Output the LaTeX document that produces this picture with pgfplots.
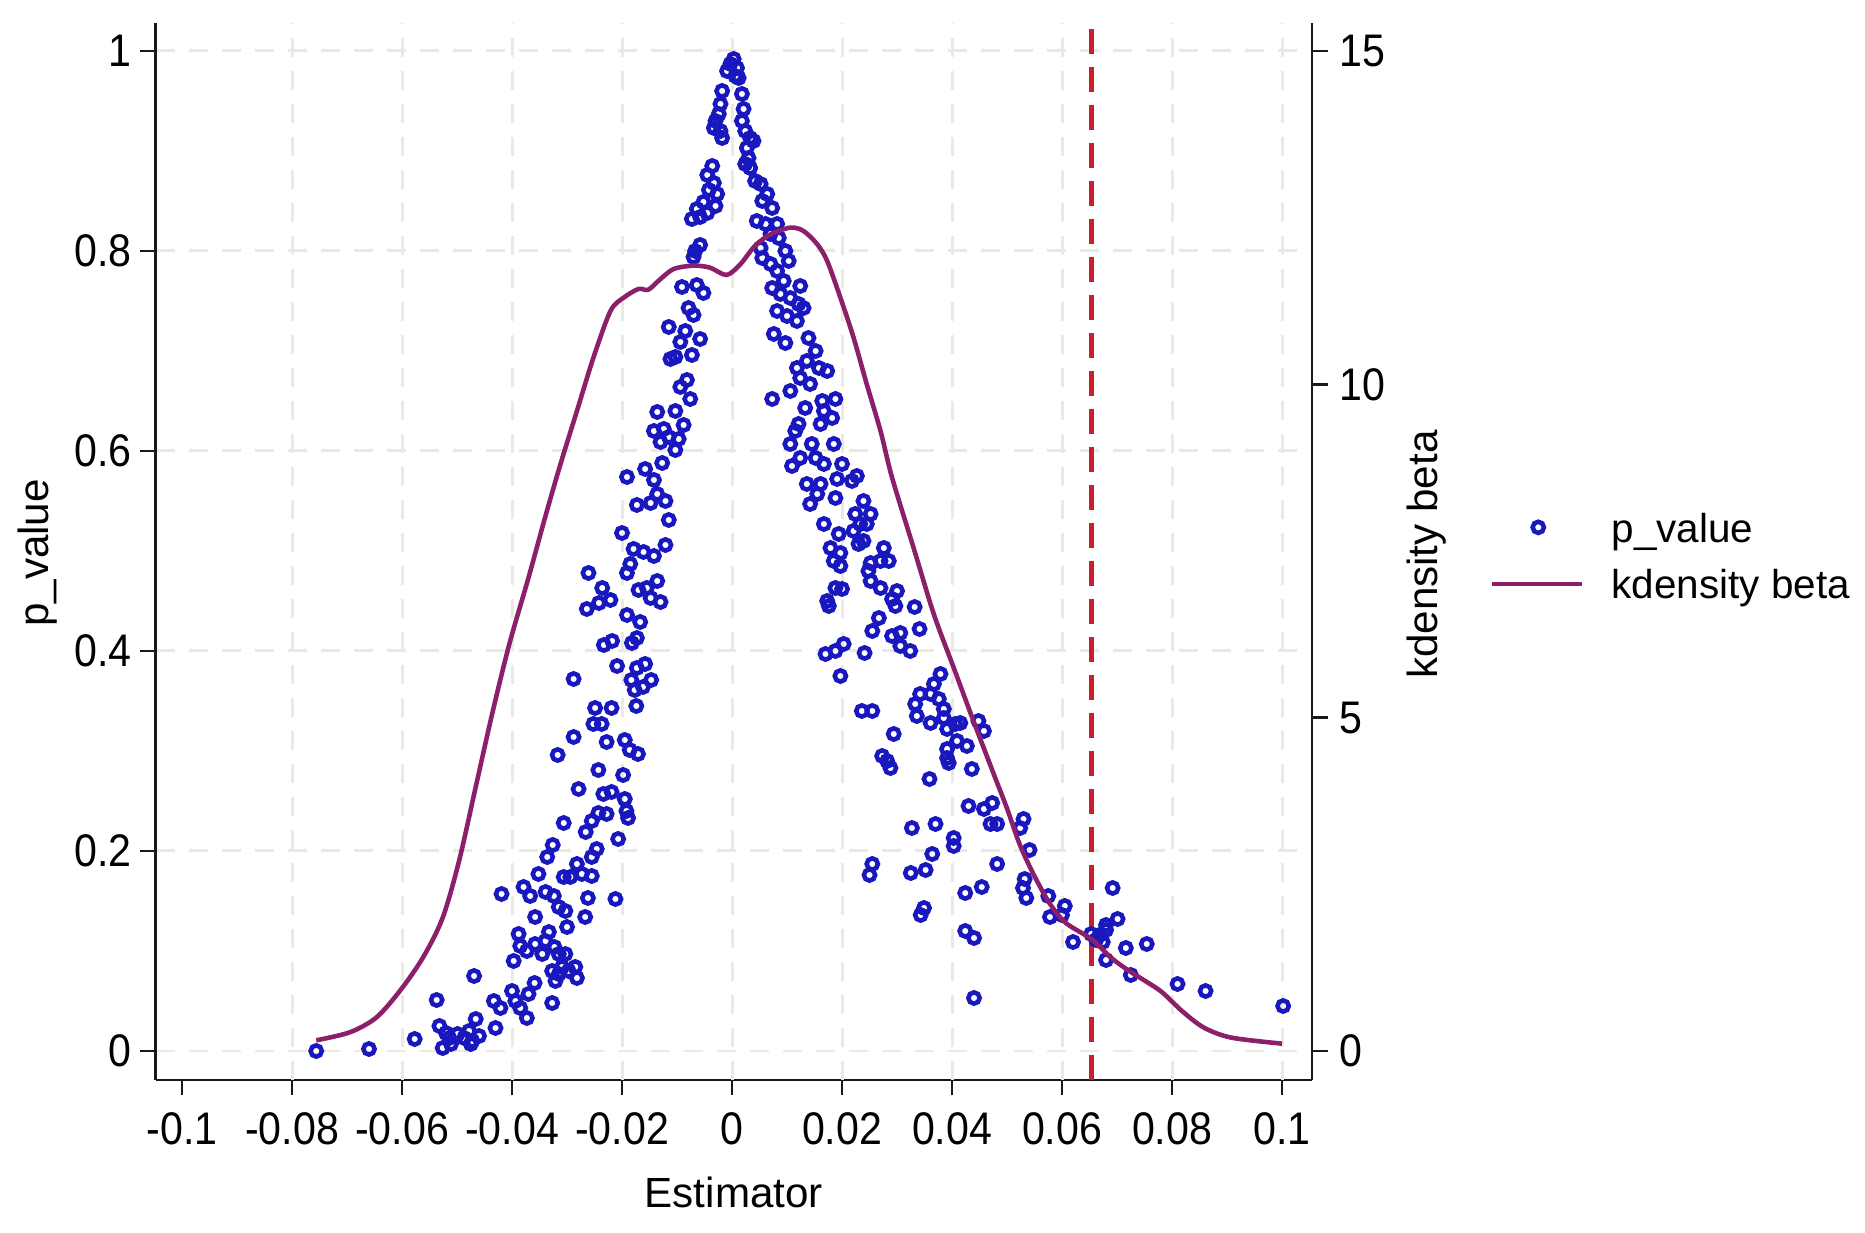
\documentclass[border=0pt]{standalone}
\usepackage{fontspec}
\setmainfont{Liberation Sans}
\newfontfamily\tickfam[FakeStretch=0.9]{Liberation Sans}
\usepackage{pgfplots}
\pgfplotsset{compat=1.18}
\definecolor{bluec}{RGB}{24,24,190}
\definecolor{purplec}{RGB}{139,31,106}
\definecolor{redc}{RGB}{200,30,45}
\definecolor{gridc}{RGB}{234,234,226}
\definecolor{axc}{RGB}{25,25,25}
\newcommand\tfont{\tickfam\fontsize{13pt}{15pt}\selectfont}
\newcommand\lfont{\fontsize{12pt}{14pt}\selectfont}
\newcommand\legfont{\fontsize{11.5pt}{13pt}\selectfont}
\pgfplotsset{
  markleg/.style={legend image code/.code={\draw[##1] plot coordinates {(0.46cm,0.15cm)};}},
  lineleg/.style={legend image code/.code={\draw[##1] (0cm,0.15cm) -- (0.9cm,0.15cm);}},
  pmark/.style={only marks, mark=o, mark size=1.6pt, mark options={draw=bluec, line width=1.3pt}},
}
\begin{document}
\begin{tikzpicture}
\useasboundingbox (0,0) rectangle (18.65cm,12.33cm);
\begin{axis}[
  at={(1.555cm,1.53cm)}, anchor=south west,
  scale only axis, width=11.565cm, height=10.57cm,
  xmin=-0.10482, xmax=0.10545, ymin=-0.029, ymax=1.028,
  axis x line*=bottom, axis y line*=left,
  axis line style={line width=0.8pt, draw=axc},
  tick pos=left, tick align=outside,
  major tick length=0.155cm,
  tick style={line width=0.8pt, draw=axc},
  xtick={-0.1,-0.08,-0.06,-0.04,-0.02,0,0.02,0.04,0.06,0.08,0.1},
  xticklabels={-0.1,-0.08,-0.06,-0.04,-0.02,0,0.02,0.04,0.06,0.08,0.1},
  ytick={0,0.2,0.4,0.6,0.8,1},
  yticklabels={0,0.2,0.4,0.6,0.8,1},
  extra x ticks={-0.08,-0.06,-0.04,-0.02,0,0.02,0.04,0.06,0.08,0.1},
  extra x tick labels={,,,,,,,,,},
  extra x tick style={xmajorgrids=true, major tick length=0pt},
  ymajorgrids=true,
  major grid style={draw=gridc, line width=0.85pt, dash pattern=on 0.19cm off 0.14cm},
  tick label style={font=\tfont},
  xticklabel style={yshift=-0.05cm},
  yticklabel style={xshift=0.04cm},
  xlabel={Estimator}, ylabel={p\_value},
  label style={font=\lfont},
  xlabel style={at={(axis description cs:0.5,-0.1202)}, anchor=base},
  ylabel style={at={(axis description cs:-0.0921,0.4986)}, anchor=base},
]
\addplot[draw=redc, line width=1.35pt, dash pattern=on 0.25cm off 0.13cm, forget plot]
  coordinates {(0.0653,-0.029) (0.0653,1.028)};
\addplot[pmark] table {
x y
-0.0756 0.000
-0.0660 0.002
-0.0577 0.012
-0.0537 0.051
-0.0469 0.075
-0.0532 0.025
-0.0520 0.018
-0.0526 0.003
-0.0511 0.007
-0.0499 0.017
-0.0487 0.013
-0.0478 0.020
-0.0472 0.010
-0.0466 0.032
-0.0460 0.015
-0.0475 0.007
-0.0514 0.013
-0.0433 0.050
-0.0430 0.023
-0.0421 0.043
-0.0400 0.060
-0.0394 0.050
-0.0385 0.043
-0.0373 0.033
-0.0370 0.057
-0.0359 0.068
-0.0397 0.090
-0.0388 0.117
-0.0385 0.105
-0.0358 0.134
-0.0373 0.100
-0.0358 0.107
-0.0345 0.097
-0.0339 0.110
-0.0333 0.119
-0.0327 0.080
-0.0327 0.048
-0.0321 0.070
-0.0315 0.077
-0.0309 0.084
-0.0303 0.097
-0.0297 0.080
-0.0285 0.084
-0.0282 0.073
-0.0315 0.097
-0.0323 0.104
-0.0419 0.157
-0.0379 0.164
-0.0367 0.155
-0.0352 0.177
-0.0339 0.159
-0.0324 0.155
-0.0315 0.144
-0.0303 0.140
-0.0300 0.124
-0.0267 0.134
-0.0262 0.153
-0.0212 0.152
-0.0336 0.194
-0.0326 0.206
-0.0306 0.174
-0.0294 0.174
-0.0282 0.187
-0.0273 0.177
-0.0255 0.175
-0.0246 0.202
-0.0255 0.194
-0.0207 0.212
-0.0266 0.219
-0.0306 0.228
-0.0255 0.230
-0.0243 0.238
-0.0228 0.237
-0.0234 0.257
-0.0219 0.259
-0.0195 0.252
-0.0192 0.240
-0.0189 0.233
-0.0279 0.262
-0.0243 0.281
-0.0198 0.276
-0.0317 0.296
-0.0288 0.314
-0.0228 0.309
-0.0195 0.311
-0.0186 0.301
-0.0171 0.297
-0.0252 0.327
-0.0237 0.327
-0.0249 0.343
-0.0219 0.343
-0.0174 0.345
-0.0288 0.372
-0.0183 0.371
-0.0162 0.364
-0.0177 0.361
-0.0147 0.371
-0.0036 0.885
-0.0045 0.876
-0.0033 0.868
-0.0042 0.861
-0.0027 0.857
-0.0052 0.849
-0.0064 0.842
-0.0073 0.832
-0.0058 0.834
-0.0045 0.838
-0.0030 0.845
-0.0058 0.806
-0.0067 0.800
-0.0070 0.794
-0.0091 0.764
-0.0064 0.766
-0.0052 0.758
-0.0079 0.743
-0.0070 0.736
-0.0115 0.724
-0.0085 0.720
-0.0094 0.709
-0.0058 0.712
-0.0073 0.696
-0.0103 0.694
-0.0112 0.692
-0.0082 0.671
-0.0094 0.664
-0.0076 0.652
-0.0136 0.639
-0.0103 0.640
-0.0088 0.626
-0.0142 0.620
-0.0124 0.622
-0.0115 0.614
-0.0130 0.609
-0.0103 0.601
-0.0097 0.612
-0.0127 0.588
-0.0158 0.582
-0.0191 0.574
-0.0142 0.571
-0.0173 0.546
-0.0148 0.548
-0.0136 0.557
-0.0121 0.550
-0.0115 0.531
-0.0200 0.518
-0.0121 0.506
-0.0179 0.502
-0.0161 0.499
-0.0142 0.495
-0.0185 0.487
-0.0191 0.478
-0.0170 0.461
-0.0155 0.463
-0.0136 0.470
-0.0148 0.453
-0.0130 0.449
-0.0261 0.478
-0.0236 0.463
-0.0221 0.451
-0.0264 0.442
-0.0242 0.448
-0.0191 0.436
-0.0167 0.429
-0.0233 0.406
-0.0218 0.410
-0.0182 0.408
-0.0173 0.413
-0.0209 0.385
-0.0173 0.383
-0.0158 0.387
0.0003 0.992
-0.0003 0.987
0.0009 0.983
-0.0009 0.980
0.0006 0.975
0.0012 0.973
-0.0018 0.960
-0.0021 0.947
-0.0024 0.937
-0.0030 0.930
-0.0033 0.923
-0.0021 0.920
-0.0018 0.913
0.0018 0.957
0.0021 0.942
0.0018 0.930
0.0024 0.920
0.0033 0.913
0.0039 0.910
0.0027 0.903
0.0030 0.893
0.0024 0.887
0.0033 0.883
0.0042 0.870
0.0052 0.867
0.0064 0.857
0.0055 0.850
0.0073 0.843
0.0045 0.830
0.0061 0.827
0.0082 0.827
0.0070 0.817
0.0085 0.813
0.0052 0.803
0.0055 0.793
0.0097 0.800
0.0070 0.787
0.0103 0.790
0.0082 0.780
0.0094 0.770
0.0073 0.763
0.0124 0.765
0.0088 0.757
0.0106 0.753
0.0121 0.747
0.0130 0.743
0.0082 0.740
0.0100 0.735
0.0118 0.730
0.0076 0.717
0.0097 0.708
0.0139 0.713
0.0152 0.700
0.0118 0.683
0.0136 0.690
0.0158 0.683
0.0173 0.680
0.0124 0.673
0.0142 0.667
0.0106 0.660
0.0073 0.652
0.0133 0.643
0.0164 0.650
0.0188 0.652
0.0167 0.640
0.0182 0.633
0.0161 0.627
0.0121 0.627
0.0115 0.620
0.0106 0.607
0.0145 0.607
0.0185 0.607
0.0124 0.593
0.0152 0.593
0.0167 0.587
0.0200 0.587
0.0109 0.585
0.0136 0.567
0.0161 0.567
0.0191 0.572
0.0218 0.570
0.0227 0.575
0.0155 0.557
0.0188 0.553
0.0239 0.550
0.0142 0.547
0.0224 0.537
0.0252 0.537
0.0233 0.527
0.0221 0.520
0.0245 0.527
0.0230 0.507
0.0239 0.510
0.0167 0.527
0.0194 0.517
0.0179 0.503
0.0197 0.498
0.0185 0.490
0.0197 0.485
0.0276 0.503
0.0252 0.488
0.0270 0.490
0.0285 0.490
0.0248 0.480
0.0252 0.470
0.0270 0.463
0.0300 0.460
0.0291 0.452
0.0297 0.445
0.0188 0.463
0.0200 0.462
0.0173 0.450
0.0176 0.445
0.0332 0.444
0.0267 0.433
0.0255 0.420
0.0291 0.415
0.0306 0.418
0.0341 0.422
0.0306 0.405
0.0324 0.400
0.0203 0.407
0.0188 0.400
0.0170 0.397
0.0241 0.398
0.0197 0.375
0.0379 0.377
0.0367 0.367
0.0342 0.357
0.0361 0.357
0.0333 0.347
0.0376 0.352
0.0336 0.335
0.0385 0.342
0.0361 0.328
0.0385 0.333
0.0391 0.322
0.0406 0.327
0.0415 0.328
0.0448 0.330
0.0458 0.320
0.0236 0.340
0.0255 0.340
0.0294 0.317
0.0409 0.310
0.0427 0.305
0.0391 0.302
0.0394 0.288
0.0391 0.293
0.0436 0.282
0.0273 0.295
0.0282 0.290
0.0288 0.283
0.0359 0.272
0.0430 0.245
0.0458 0.242
0.0473 0.248
0.0470 0.227
0.0482 0.227
0.0530 0.232
0.0524 0.223
0.0327 0.223
0.0370 0.227
0.0403 0.213
0.0403 0.205
0.0255 0.187
0.0250 0.176
0.0541 0.201
0.0364 0.197
0.0482 0.187
0.0325 0.178
0.0352 0.181
0.0532 0.172
0.0529 0.163
0.0535 0.153
0.0424 0.158
0.0454 0.164
0.0575 0.155
0.0343 0.136
0.0349 0.143
0.0424 0.120
0.0440 0.113
0.0578 0.134
0.0605 0.145
0.0600 0.136
0.0620 0.109
0.0653 0.117
0.0668 0.116
0.0674 0.109
0.0662 0.111
0.0680 0.121
0.0680 0.091
0.0692 0.163
0.0701 0.132
0.0680 0.126
0.0716 0.103
0.0725 0.076
0.0440 0.053
0.0754 0.107
0.0810 0.067
0.0861 0.060
0.1002 0.045
};
\end{axis}
\begin{axis}[
  at={(1.555cm,1.53cm)}, anchor=south west,
  scale only axis, width=11.565cm, height=10.57cm,
  xmin=-0.10482, xmax=0.10545, ymin=-0.435, ymax=15.42,
  axis x line=none, axis y line*=right,
  xtick=\empty,
  axis line style={line width=0.8pt, draw=axc},
  ytick pos=right, yticklabel pos=right, tick align=outside,
  major tick length=0.155cm,
  tick style={line width=0.8pt, draw=axc},
  ytick={0,5,10,15}, yticklabels={0,5,10,15},
  tick label style={font=\tfont},
  ylabel={kdensity beta},
  label style={font=\lfont},
  ylabel style={at={(axis description cs:1.1081,0.497)}, anchor=base},
  legend style={at={(axis description cs:1.1539,0.543)}, anchor=north west,
    draw=none, fill=none, inner sep=0pt, outer sep=0pt,
    column sep=0.2cm, row sep=0.08cm, font=\legfont,
    cells={anchor=base west}},
]
\addlegendimage{pmark, markleg}
\addlegendentry{p\_value}
\addplot[draw=purplec, line width=1.3pt, smooth, tension=0.5, lineleg] table {
x y
-0.0756 0.16
-0.0695 0.28
-0.0647 0.50
-0.0604 0.90
-0.0562 1.40
-0.0526 2.00
-0.0496 2.86
-0.0466 3.96
-0.0436 5.06
-0.0405 6.10
-0.0370 7.10
-0.0340 8.00
-0.0312 8.80
-0.0282 9.60
-0.0252 10.40
-0.0221 11.10
-0.0197 11.30
-0.0170 11.43
-0.0152 11.42
-0.0130 11.58
-0.0106 11.73
-0.0070 11.78
-0.0040 11.75
-0.0010 11.64
0.0015 11.80
0.0042 12.08
0.0070 12.25
0.0106 12.35
0.0130 12.30
0.0155 12.10
0.0173 11.85
0.0197 11.30
0.0221 10.70
0.0245 10.00
0.0270 9.30
0.0291 8.60
0.0330 7.55
0.0367 6.55
0.0403 5.75
0.0439 4.95
0.0476 4.15
0.0499 3.66
0.0523 3.10
0.0547 2.67
0.0577 2.22
0.0607 1.92
0.0653 1.68
0.0692 1.38
0.0728 1.17
0.0779 0.90
0.0818 0.60
0.0858 0.35
0.0908 0.20
0.1000 0.11
};
\addlegendentry{kdensity beta}
\end{axis}
\end{tikzpicture}
\end{document}
